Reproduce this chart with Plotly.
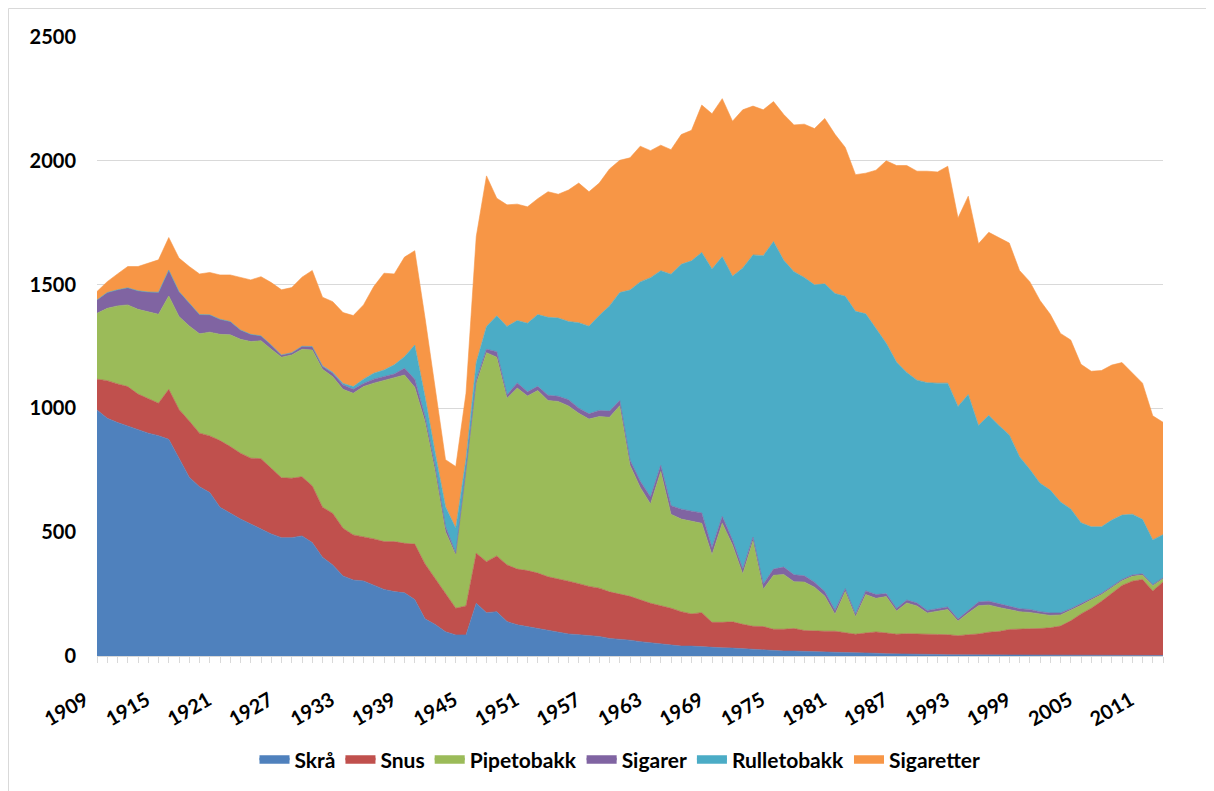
import plotly.graph_objects as go

years = list(range(1909, 2014))

skra = [994, 960, 943, 929, 913, 900, 890, 875, 799, 722,
        684, 660, 601, 576, 553, 533, 512, 493, 478, 478,
        485, 458, 399, 368, 323, 307, 303, 287, 269, 260,
        255, 228, 150, 127, 98, 85, 85, 213, 175, 179,
        139, 126, 118, 110, 103, 96, 89, 86, 82, 79,
        71, 68, 64, 58, 54, 50, 45, 40, 40, 37,
        35, 33, 32, 29, 27, 26, 21, 20, 20, 18,
        17, 17, 15, 14, 12, 11, 11, 9, 9, 8,
        8, 6, 6, 5, 5, 5, 4, 4, 4, 4,
        3, 3, 3, 3, 3, 3, 3, 2, 2, 2,
        2, 2, 2, 2, 2]

snus = [124, 152, 156, 159, 145, 138, 131, 202, 197, 227,
        216, 229, 269, 270, 266, 266, 285, 265, 242, 240,
        239, 229, 202, 208, 193, 182, 179, 186, 193, 202,
        200, 224, 222, 187, 157, 108, 117, 202, 206, 225,
        229, 225, 227, 225, 217, 216, 213, 206, 199, 195,
        188, 182, 177, 169, 159, 153, 148, 139, 130, 138,
        101, 103, 106, 99, 93, 93, 87, 88, 91, 85,
        83, 83, 85, 79, 76, 82, 86, 84, 79, 82,
        82, 84, 81, 81, 77, 81, 85, 92, 95, 103,
        107, 107, 108, 111, 118, 139, 167, 191, 219, 251,
        283, 300, 307, 261, 297]

pipetobakk = [266, 292, 315, 330, 342, 353, 359, 377, 375, 384,
              401, 419, 429, 451, 460, 471, 476, 481, 487, 498,
              515, 549, 557, 552, 561, 572, 606, 629, 650, 660,
              680, 633, 575, 431, 247, 215, 538, 686, 844, 803,
              673, 731, 705, 737, 712, 716, 708, 688, 676, 693,
              705, 761, 529, 454, 401, 542, 379, 374, 375, 361,
              273, 400, 310, 203, 345, 151, 218, 221, 189, 196,
              178, 142, 69, 167, 71, 155, 136, 147, 94, 124,
              112, 84, 94, 102, 59, 88, 114, 110, 97, 81,
              69, 66, 58, 50, 45, 42, 35, 34, 27, 23,
              19, 20, 18, 21, 13]

sigarer = [54, 64, 65, 69, 75, 79, 89, 105, 101, 92,
           78, 70, 61, 54, 38, 29, 20, 17, 9, 9,
           12, 14, 11, 14, 18, 16, 13, 16, 16, 17,
           27, 33, 20, 20, 20, 7, 13, 14, 14, 22,
           13, 21, 17, 17, 21, 21, 25, 21, 21, 25,
           25, 21, 21, 25, 28, 25, 35, 40, 40, 42,
           28, 28, 20, 20, 15, 20, 25, 30, 28, 25,
           20, 18, 15, 12, 10, 15, 15, 12, 10, 12,
           12, 10, 10, 10, 8, 10, 15, 15, 15, 14,
           12, 12, 10, 10, 8, 7, 6, 5, 5, 5,
           5, 5, 5, 4, 4]

rulletobakk = [0, 0, 0, 0, 0, 0, 0, 0, 0, 0,
               0, 0, 0, 0, 0, 0, 0, 0, 0, 0,
               0, 0, 3, 4, 6, 11, 17, 24, 27, 37,
               47, 138, 81, 54, 81, 101, 42, 70, 92, 145,
               277, 252, 277, 290, 315, 316, 316, 345, 354, 383,
               425, 436, 687, 805, 886, 786, 935, 989, 1011, 1052,
               1126, 1049, 1066, 1216, 1140, 1327, 1323, 1239, 1224, 1205,
               1201, 1243, 1280, 1181, 1223, 1119, 1076, 1011, 995, 919,
               900, 920, 911, 904, 859, 872, 713, 751, 720, 691,
               614, 566, 519, 496, 448, 403, 327, 290, 269, 268,
               260, 246, 220, 181, 174]

sigaretter = [34, 44, 64, 86, 98, 116, 131, 131, 135, 148,
              164, 171, 179, 188, 213, 220, 239, 252, 263, 263,
              279, 307, 277, 285, 286, 287, 300, 350, 391, 367,
              402, 381, 318, 256, 190, 249, 266, 509, 608, 475,
              491, 470, 470, 468, 507, 500, 531, 564, 543, 535,
              553, 534, 534, 548, 513, 507, 503, 524, 527, 595,
              627, 638, 626, 639, 601, 589, 565, 589, 593, 619,
              631, 668, 643, 601, 552, 568, 638, 737, 794, 836,
              844, 854, 853, 876, 761, 801, 734, 739, 759, 775,
              752, 758, 738, 710, 681, 682, 640, 628, 631, 626,
              616, 570, 550, 501, 454]

series_names = ["Skrå", "Snus", "Pipetobakk", "Sigarer", "Rulletobakk", "Sigaretter"]
series_values = [skra, snus, pipetobakk, sigarer, rulletobakk, sigaretter]
series_colors = ["#4F81BD", "#C0504D", "#9BBB59", "#8064A2", "#4BACC6", "#F79646"]

tick_years = list(range(1909, 2014, 6))
y_ticks = [0, 500, 1000, 1500, 2000, 2500]

fig = go.Figure()
for name, vals, col in zip(series_names, series_values, series_colors):
    fig.add_trace(go.Scatter(
        x=years, y=vals, name=name, stackgroup="one", mode="lines",
        line=dict(width=0.6, color=col), fillcolor=col,
        hovertemplate="%{x}: %{y}<extra>" + name + "</extra>",
    ))

W, H = 1214, 791
# the page body adds an 8px offset, so the figure is laid out 8px up/left
L, R, T, B = 89, 59, 29, 143
pw, ph = W - L - R, H - T - B

fig.update_layout(
    width=W, height=H,
    margin=dict(l=L, r=R, t=T, b=B, autoexpand=False),
    paper_bgcolor="white", plot_bgcolor="white",
    showlegend=True,
    legend=dict(orientation="h", x=(612 - L) / pw, xanchor="center",
                y=(H - B - 752) / ph, yanchor="middle",
                font=dict(family="Lato", size=21, color="#000000", weight="bold"),
                traceorder="normal", itemsizing="constant", itemwidth=30),
    xaxis=dict(range=[1909, 2013], tickmode="array", tickvals=years,
               ticktext=[str(y) if y in tick_years else "" for y in years],
               tickangle=-30, ticks="outside", ticklen=6, tickcolor="#D9D9D9",
               showline=True, linecolor="#D9D9D9", linewidth=1,
               showgrid=False, zeroline=False, ticklabelstandoff=18,
               ticklabelshift=-12,
               tickfont=dict(family="Lato", size=20, color="#000000", weight="bold")),
    yaxis=dict(range=[0, 2500], tickmode="array", tickvals=y_ticks,
               showgrid=True, gridcolor="#D9D9D9", gridwidth=1,
               zeroline=False, showline=False, ticks="",
               ticklabelstandoff=20,
               tickfont=dict(family="Lato", size=20, color="#000000", weight="bold")),
    shapes=[dict(type="rect", xref="paper", yref="paper",
                 x0=(0.5 - L) / pw, x1=1.2, y0=-0.4, y1=(H - B - 0.5) / ph,
                 line=dict(color="#D9D9D9", width=1), fillcolor="rgba(0,0,0,0)",
                 layer="below")],
)

fig.write_html("out.html")
